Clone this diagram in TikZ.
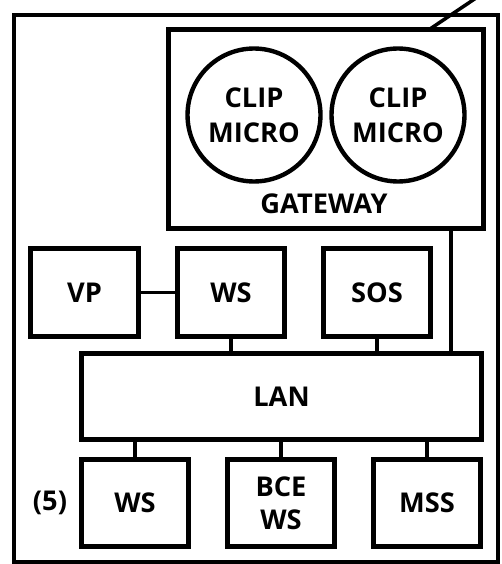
\documentclass[tikz,border=0pt]{standalone}
\usepackage{fontspec}
\setmainfont{Open Sans}[BoldFont={* Bold}]
\usetikzlibrary{calc}

\begin{document}
\begin{tikzpicture}[
    x=0.02cm, y=-0.02cm,
    every node/.style={font=\bfseries\fontsize{15.5}{20}\selectfont},
    unit/.style={rectangle, draw, line width=3pt, minimum width=2.15cm, minimum height=1.75cm, inner sep=0pt, align=center},
    micro/.style={circle, draw, line width=2.5pt, minimum size=2.66cm, inner sep=0pt, align=center},
    link/.style={line width=2pt},
  ]
  \useasboundingbox (0,0) rectangle (501,564);
  \node[draw, line width=1.8pt, minimum width=9.68cm, minimum height=10.94cm, inner sep=0pt] (frame) at (256,288.5) {};
  \node[unit, minimum width=6.3cm, minimum height=3.98cm] (gw) at (326,129) {};
  \node (gwlab) at (324,204) {GATEWAY};
  \node[micro] (c1) at (254,115) {CLIP\\MICRO};
  \node[micro] (c2) at (398,115) {CLIP\\MICRO};
  \node[unit] (vp) at (84.5,292.5) {VP};
  \node[unit] (ws) at (231,292.5) {WS};
  \node[unit] (sos) at (377,292.5) {SOS};
  \node[unit, minimum width=8.0cm, minimum height=1.72cm] (lan) at (281.5,396.5) {LAN};
  \node[unit] (ws5) at (135,503) {WS};
  \node[unit] (bce) at (281,503) {BCE\\[-1pt]WS};
  \node[unit] (mss) at (427,503) {MSS};
  \node (five) at (50,503) {(5)};
  \coordinate (ext) at (476,-2);
  \coordinate (tap) at (430,29);
  \draw[link] (tap) -- (ext);
  \draw[link] (vp) -- (ws);
  \draw[link] (ws.south) -- (ws.south |- lan.north);
  \draw[link] (sos.south) -- (sos.south |- lan.north);
  \draw[link] ($(gw.south east)+(-35,0)$) coordinate (drop) -- (drop |- lan.north);
  \draw[link] (ws5.north) -- (ws5.north |- lan.south);
  \draw[link] (bce.north) -- (bce.north |- lan.south);
  \draw[link] (mss.north) -- (mss.north |- lan.south);
\end{tikzpicture}
\end{document}
